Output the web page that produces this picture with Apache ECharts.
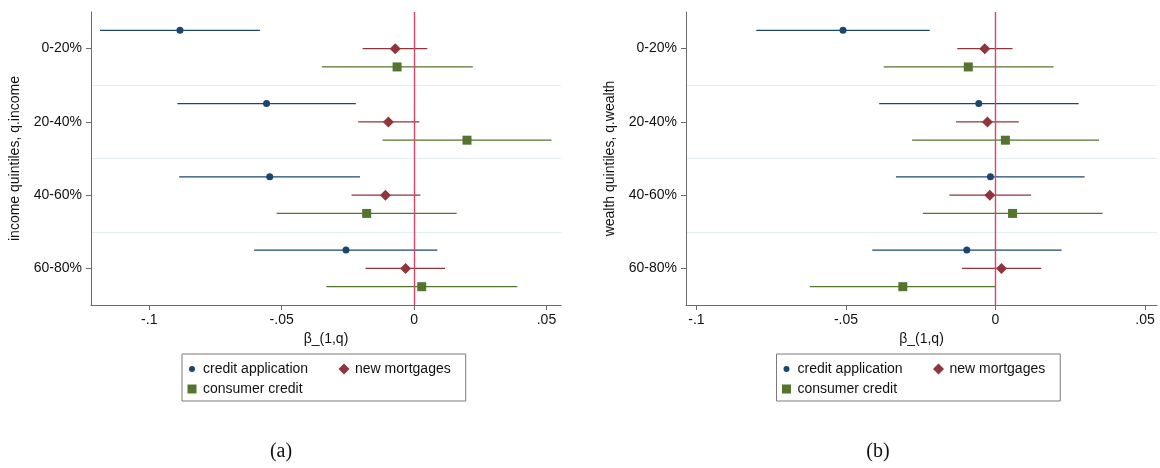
<!DOCTYPE html>
<html>
<head>
<meta charset="utf-8">
<script src="https://cdn.jsdelivr.net/npm/echarts@6/dist/echarts.min.js"></script>
<style>
  html, body { margin: 0; padding: 0; background: #fff; }
  #chart { width: 1160px; height: 468px; }
</style>
</head>
<body>
<div id="chart"></div>
<script>
// Quintile categories on the vertical axis
const quintiles = ['0-20%', '20-40%', '40-60%', '60-80%'];

// Horizontal tick positions and their Stata-style labels
const xTickValues = [-0.1, -0.05, 0, 0.05];
const xTickLabels = ['-.1', '-.05', '0', '.05'];

// Panel (a): income quintiles — point estimate, lower and upper CI bound
const incCreditApp   = [-0.0884, -0.0557, -0.0545, -0.0257];
const incCreditAppLo = [-0.1186, -0.0894, -0.0887, -0.0604];
const incCreditAppHi = [-0.0582, -0.0220, -0.0204,  0.0088];
const incMortgage    = [-0.0071, -0.0097, -0.0108, -0.0032];
const incMortgageLo  = [-0.0194, -0.0211, -0.0236, -0.0183];
const incMortgageHi  = [ 0.0050,  0.0020,  0.0024,  0.0117];
const incConsumer    = [-0.0064,  0.0200, -0.0179,  0.0029];
const incConsumerLo  = [-0.0348, -0.0119, -0.0519, -0.0331];
const incConsumerHi  = [ 0.0222,  0.0519,  0.0161,  0.0390];

// Panel (b): wealth quintiles
const wltCreditApp   = [-0.0510, -0.0056, -0.0017, -0.0096];
const wltCreditAppLo = [-0.0800, -0.0389, -0.0333, -0.0412];
const wltCreditAppHi = [-0.0220,  0.0278,  0.0298,  0.0221];
const wltMortgage    = [-0.0036, -0.0027, -0.0019,  0.0020];
const wltMortgageLo  = [-0.0128, -0.0132, -0.0154, -0.0112];
const wltMortgageHi  = [ 0.0057,  0.0078,  0.0119,  0.0153];
const wltConsumer    = [-0.0091,  0.0033,  0.0057, -0.0310];
const wltConsumerLo  = [-0.0374, -0.0279, -0.0243, -0.0621];
const wltConsumerHi  = [ 0.0194,  0.0346,  0.0358, -0.0001];

const seriesNames = ['credit application', 'new mortgages', 'consumer credit'];
const FONT = '"Liberation Sans", Arial, Helvetica, sans-serif';
const AXIS_GRAY = '#6b6b6b';
const TEXT = '#111';

// Marker styling per outcome; offsets place the three estimates inside each quintile band
const styles = [
  { color: '#1a476f', symbol: 'circle',  size: 7,  offset: -0.25 },
  { color: '#90353b', symbol: 'diamond', size: 11, offset: 0 },
  { color: '#55752f', symbol: 'rect',    size: 9,  offset: 0.25 }
];

// Legend icons padded to a common 12x12 box so their relative sizes are kept
const legendIcons = [
  'path://M0,0M12,12M3,6A3,3 0 1 1 9,6A3,3 0 1 1 3,6Z',
  'path://M0,0M12,12M6,0.5L11.5,6L6,11.5L0.5,6Z',
  'path://M0,0M12,12M1.5,1.5L10.5,1.5L10.5,10.5L1.5,10.5Z'
];

function ciRender(color) {
  return function (params, api) {
    const y = api.value(2);
    const a = api.coord([api.value(0), y]);
    const b = api.coord([api.value(1), y]);
    return {
      type: 'line',
      shape: { x1: a[0], y1: a[1], x2: b[0], y2: b[1] },
      style: { stroke: color, lineWidth: 1.3 }
    };
  };
}

function panelSeries(gridIdx, est, lo, hi) {
  const out = [];
  for (let k = 0; k < 3; k++) {
    const s = styles[k];
    out.push({
      name: seriesNames[k],
      type: 'custom',
      xAxisIndex: gridIdx,
      yAxisIndex: gridIdx * 2 + 1,
      renderItem: ciRender(s.color),
      encode: { x: [0, 1], y: 2 },
      data: quintiles.map((q, i) => [lo[k][i], hi[k][i], i + s.offset]),
      z: 2,
      silent: true
    });
  }
  for (let k = 0; k < 3; k++) {
    const s = styles[k];
    out.push({
      name: seriesNames[k],
      type: 'scatter',
      xAxisIndex: gridIdx,
      yAxisIndex: gridIdx * 2 + 1,
      symbol: s.symbol,
      symbolSize: s.size,
      itemStyle: { color: s.color, opacity: 1 },
      data: quintiles.map((q, i) => [est[k][i], i + s.offset]),
      z: 4,
      silent: true
    });
  }
  // zero reference line
  out.push({
    type: 'line',
    xAxisIndex: gridIdx,
    yAxisIndex: gridIdx * 2 + 1,
    data: [],
    silent: true,
    z: 3,
    markLine: {
      silent: true,
      symbol: 'none',
      label: { show: false },
      lineStyle: { color: '#d4476a', width: 1.4, type: 'solid' },
      data: [{ xAxis: 0 }],
      animation: false
    }
  });
  return out;
}

function xAxisFor(gridIdx, min, max) {
  return {
    type: 'value',
    gridIndex: gridIdx,
    min: min,
    max: max,
    name: 'β_(1,q)',
    nameLocation: 'middle',
    nameGap: 26,
    nameTextStyle: { fontFamily: FONT, fontSize: 14, color: TEXT },
    axisLine: { show: true, onZero: false, lineStyle: { color: AXIS_GRAY, width: 1 } },
    axisTick: { show: true, length: 5, customValues: xTickValues, lineStyle: { color: AXIS_GRAY } },
    axisLabel: {
      customValues: xTickValues,
      margin: 8,
      fontFamily: FONT, fontSize: 14, color: TEXT,
      formatter: function (v) {
        const i = xTickValues.findIndex(t => Math.abs(t - v) < 1e-9);
        return i >= 0 ? xTickLabels[i] : '';
      }
    },
    splitLine: { show: false }
  };
}

function yAxesFor(gridIdx, title) {
  return [
    {
      type: 'category',
      gridIndex: gridIdx,
      data: quintiles,
      inverse: true,
      boundaryGap: true,
      name: title,
      nameLocation: 'middle',
      nameGap: 69,
      nameTextStyle: { fontFamily: FONT, fontSize: 14, color: TEXT },
      axisLine: { show: true, onZero: false, lineStyle: { color: AXIS_GRAY, width: 1 } },
      axisTick: { show: true, alignWithLabel: true, length: 5, lineStyle: { color: AXIS_GRAY } },
      axisLabel: { margin: 9, fontFamily: FONT, fontSize: 14, color: TEXT },
      splitLine: { show: true, showMinLine: false, showMaxLine: false, lineStyle: { color: '#e4edf0', width: 1 } }
    },
    {
      type: 'value',
      gridIndex: gridIdx,
      min: -0.5,
      max: 3.5,
      inverse: true,
      show: false,
      axisLine: { onZero: false },
      splitLine: { show: false }
    }
  ];
}

function legendFor(left) {
  return {
    left: left,
    top: 354,
    orient: 'horizontal',
    width: 280,
    padding: [8, 15, 5, 4],
    itemGap: 6,
    itemWidth: 12,
    itemHeight: 12,
    borderColor: '#7a7a7a',
    borderWidth: 1,
    backgroundColor: '#fff',
    selectedMode: false,
    textStyle: { fontFamily: FONT, fontSize: 14, color: TEXT, lineHeight: 14 },
    data: [
      { name: seriesNames[0], icon: legendIcons[0], itemStyle: { color: styles[0].color },
        textStyle: { width: 129, overflow: 'none' } },
      { name: seriesNames[1], icon: legendIcons[1], itemStyle: { color: styles[1].color } },
      { name: seriesNames[2], icon: legendIcons[2], itemStyle: { color: styles[2].color } }
    ]
  };
}

const chart = echarts.init(document.getElementById('chart'), null, { renderer: 'canvas' });

chart.setOption({
  backgroundColor: '#ffffff',
  animation: false,
  grid: [
    { left: 91, right: 599, top: 12, bottom: 163, containLabel: false },
    { left: 686, right: 3, top: 12, bottom: 163, containLabel: false }
  ],
  xAxis: [
    xAxisFor(0, -0.122, 0.0555),
    xAxisFor(1, -0.1035, 0.054)
  ],
  yAxis: [
    ...yAxesFor(0, 'income quintiles, q.income'),
    ...yAxesFor(1, 'wealth quintiles, q.wealth')
  ],
  legend: [legendFor(182), legendFor(776.5)],
  graphic: [
    { type: 'text', x: 281, y: 452, style: { text: '(a)', align: 'center', verticalAlign: 'middle',
      font: '20px "Liberation Serif", "DejaVu Serif", serif', fill: '#111' } },
    { type: 'text', x: 878, y: 452, style: { text: '(b)', align: 'center', verticalAlign: 'middle',
      font: '20px "Liberation Serif", "DejaVu Serif", serif', fill: '#111' } }
  ],
  series: [
    ...panelSeries(0,
      [incCreditApp, incMortgage, incConsumer],
      [incCreditAppLo, incMortgageLo, incConsumerLo],
      [incCreditAppHi, incMortgageHi, incConsumerHi]),
    ...panelSeries(1,
      [wltCreditApp, wltMortgage, wltConsumer],
      [wltCreditAppLo, wltMortgageLo, wltConsumerLo],
      [wltCreditAppHi, wltMortgageHi, wltConsumerHi])
  ]
});
</script>
</body>
</html>
